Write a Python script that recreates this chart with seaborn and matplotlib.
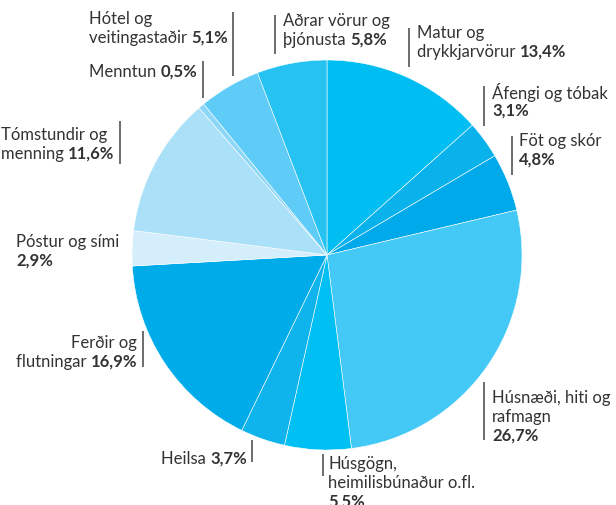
import matplotlib
matplotlib.use("Agg")
import matplotlib.pyplot as plt
import seaborn as sns

# Skipting útgjalda heimilanna (%)
flokkar = [
    "Matur og\ndrykkjarvörur",
    "Áfengi og tóbak",
    "Föt og skór",
    "Húsnæði, hiti og\nrafmagn",
    "Húsgögn,\nheimilisbúnaður o.fl.",
    "Heilsa",
    "Ferðir og\nflutningar",
    "Póstur og sími",
    "Tómstundir og\nmenning",
    "Menntun",
    "Hótel og\nveitingastaðir",
    "Aðrar vörur og\nþjónusta",
]
hlutfall = [13.4, 3.1, 4.8, 26.7, 5.5, 3.7, 16.9, 2.9, 11.6, 0.5, 5.1, 5.8]
litir = ["#00BDF2", "#0AB2EC", "#00AAEA", "#44C8F5", "#00BFF3", "#0FB4EC",
         "#00ABEA", "#D4EEFB", "#ABE1F8", "#8CD6F7", "#5ECCF6", "#26C3F2"]

# staðsetning merkja í pixlum: (x, y fyrstu línu, jöfnun, % í nýrri línu, strik, hámark hægri brúnar)
stadsetning = {
    0: (417, 33, "left", False, (409, 29, 68), None),
    1: (492, 92, "left", True, (484, 87, 127), None),
    2: (519, 141, "left", True, (512, 137, 176), None),
    3: (492, 398, "left", True, (484, 383, 441), None),
    4: (328, 464, "left", True, (323, 455, 477), None),
    5: (247, 459, "right", False, (252, 441, 463), None),
    6: (137, 343, "right", False, (143, 332, 368), None),
    7: (16, 242, "left", True, None, None),
    8: (22, 135, "left", False, (120, 122, 165), 114),
    9: (197, 72, "right", False, (203, 62, 99), None),
    10: (83, 19, "left", False, (233, 13, 77), 228),
    11: (283, 21, "left", False, (275, 16, 55), None),
}

W, H = 616, 506
LINA = 19
TEXTI = "#333333"

sns.set_style("white")
plt.rcParams["font.family"] = ["Lato", "DejaVu Sans"]

fig = plt.figure(figsize=(W / 100, H / 100), dpi=100)
ax = fig.add_axes([0, 0, 1, 1])

ax.pie(hlutfall, colors=litir, startangle=90, counterclock=False,
       center=(327, H - 256), radius=195,
       wedgeprops=dict(edgecolor="white", linewidth=0.4))
ax.set_xlim(0, W)
ax.set_ylim(0, H)
ax.set_aspect("equal")
ax.axis("off")

rend = fig.canvas.get_renderer()


def bb(t):
    return t.get_window_extent(renderer=rend)


def skrifa_linu(x, y, venjulegt, feitt, ha):
    kw = dict(fontsize=12, color=TEXTI, va="center")
    tt = []
    if ha == "left":
        t = ax.text(x, H - y, venjulegt, ha="left", **kw)
        tt.append(t)
        if feitt:
            w = bb(t).width if venjulegt else 0
            tt.append(ax.text(x + w, H - y, feitt, ha="left", fontweight="bold", **kw))
    else:
        if feitt:
            tb = ax.text(x, H - y, feitt, ha="right", fontweight="bold", **kw)
            tt.append(tb)
            x = x - bb(tb).width
        tt.append(ax.text(x, H - y, venjulegt, ha="right", **kw))
    return tt


for i, (nafn, v) in enumerate(zip(flokkar, hlutfall)):
    x, y, ha, ny_lina, strik, hamark = stadsetning[i]
    pct = f"{v:.1f}".replace(".", ",") + "%"
    linur = nafn.split("\n")
    textar = []
    for j, lina in enumerate(linur[:-1]):
        textar += skrifa_linu(x, y + j * LINA, lina, "", ha)
    n = len(linur) - 1
    if ny_lina:
        textar += skrifa_linu(x, y + n * LINA, linur[-1], "", ha)
        textar += skrifa_linu(x, y + (n + 1) * LINA, "", pct, ha)
    else:
        textar += skrifa_linu(x, y + n * LINA, linur[-1] + " ", pct, ha)
    if hamark is not None:
        haegri = max(bb(t).x1 for t in textar)
        dx = hamark - haegri
        for t in textar:
            px, py = t.get_position()
            t.set_position((px + dx, py))
    if strik:
        sx, y0, y1 = strik
        ax.plot([sx, sx], [H - y0, H - y1], color="#444444", lw=1.1,
                solid_capstyle="butt")

fig.savefig("out.png", dpi=100)
